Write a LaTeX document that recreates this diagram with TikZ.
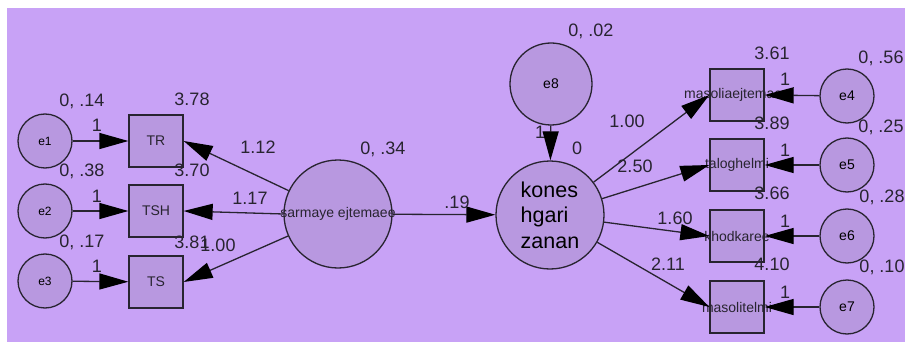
\documentclass[tikz,border=0pt]{standalone}
\usepackage{fontspec}
\setmainfont{Liberation Sans}
\usetikzlibrary{arrows.meta}
\definecolor{bgpurple}{RGB}{200,162,246}
\definecolor{nodepurple}{RGB}{184,152,224}
\definecolor{inkgray}{RGB}{40,36,48}

\begin{document}
\begin{tikzpicture}[x=1pt, y=-1pt,
	every node/.style={inner sep=0pt},
	err/.style={circle, draw=inkgray, line width=1.3pt, fill=nodepurple,
		minimum size=54pt, font=\fontsize{12}{14}\selectfont},
	obs/.style={rectangle, draw=inkgray, line width=1.3pt, fill=nodepurple,
		minimum width=54pt, minimum height=52pt,
		label={[font=\fontsize{14}{16}\selectfont, text=inkgray]center:#1}},
	lat/.style={circle, draw=inkgray, line width=1.3pt, fill=nodepurple,
		minimum size=108pt},
	num/.style={font=\fontsize{18}{20}\selectfont, text=inkgray},
	regr/.style={draw=inkgray, line width=1.3pt,
		-{Triangle[length=29pt, width=16pt, color=black]}}]

% canvas
\fill [white] (0,0) rectangle (905,342);
\useasboundingbox (0,0) rectangle (905,342);
\fill [bgpurple] (7,8) rectangle (905,342);

% left side
\node [err] (e1) at (45,141) {e1};
\node [err] (e2) at (45,211) {e2};
\node [err] (e3) at (45,281) {e3};
\node [obs=TR]  (TR)  at (156,141) {};
\node [obs=TSH] (TSH) at (156,211) {};
\node [obs=TS]  (TS)  at (156,282) {};
\node [lat, label={[font=\fontsize{14}{16}\selectfont, text=inkgray]center:sarmaye ejtemaee}]
	(sar) at (338,214) {};

% right side
\node [err, minimum size=82pt, font=\fontsize{14}{16}\selectfont] (e8) at (551,84) {e8};
\node [lat, align=left, font=\fontsize{21.5}{25.5}\selectfont] (kon) at (550,215)
	{kones\\hgari\\zanan};
\node [obs=masoliaejtemaee] (mas) at (737,95)  {};
\node [obs=taloghelmi]      (tal) at (737,165) {};
\node [obs=khodkaree]       (kho) at (737,236) {};
\node [obs=masolitelmi]     (msl) at (737,307) {};
\node [err, font=\fontsize{14}{16}\selectfont] (e4) at (847,96)  {e4};
\node [err, font=\fontsize{14}{16}\selectfont] (e5) at (847,165) {e5};
\node [err, font=\fontsize{14}{16}\selectfont] (e6) at (847,236) {e6};
\node [err, font=\fontsize{14}{16}\selectfont] (e7) at (847,307) {e7};

% paths
\draw [regr] (e1) -- (TR);
\draw [regr] (e2) -- (TSH);
\draw [regr] (e3) -- (TS);
\draw [regr] (sar) -- (TR.east);
\draw [regr] (sar.west) -- (TSH.east);
\draw [regr] (sar) -- (TS.east);
\draw [regr] (sar) -- (kon);
\draw [regr] (e8) -- (kon);
\draw [regr] (kon) -- (mas.west);
\draw [regr] (kon) -- (tal.west);
\draw [regr] (kon) -- (kho.west);
\draw [regr] (kon) -- (msl.west);
\draw [regr] (e4) -- (mas.east);
\draw [regr] (e5) -- (tal.east);
\draw [regr] (e6) -- (kho.east);
\draw [regr] (e7) -- (msl.east);

% estimates
\node [num] (v1) at (82,101) {0, .14};
\node [num] (v2) at (82,171) {0, .38};
\node [num] (v3) at (82,242) {0, .17};
\node [num] (i1) at (192,99)  {3.78};
\node [num] (i2) at (192,170) {3.70};
\node [num] (i3) at (192,242) {3.81};
\node [num] (w1) at (97,125) {1};
\node [num] (w2) at (97,196) {1};
\node [num] (w3) at (97,266) {1};
\node [num] (l1) at (258,147) {1.12};
\node [num] (l2) at (250,198) {1.17};
\node [num] (l3) at (218,245) {1.00};
\node [num] (vs) at (383,149) {0, .34};
\node [num] (b1) at (457,202) {.19};
\node [num] (v8) at (591,31)  {0, .02};
\node [num] (w8) at (540,132) {1};
\node [num] (ik) at (577,148) {0};
\node [num] (l4) at (627,121) {1.00};
\node [num] (l5) at (635,166) {2.50};
\node [num] (l6) at (675,218) {1.60};
\node [num] (l7) at (668,264) {2.11};
\node [num] (i4) at (772,53)  {3.61};
\node [num] (i5) at (772,123) {3.89};
\node [num] (i6) at (772,193) {3.66};
\node [num] (i7) at (772,264) {4.10};
\node [num] (v4) at (881,58)  {0, .56};
\node [num] (v5) at (881,127) {0, .25};
\node [num] (v6) at (882,197) {0, .28};
\node [num] (v7) at (882,267) {0, .10};
\node [num] (w4) at (785,79)  {1};
\node [num] (w5) at (785,150) {1};
\node [num] (w6) at (785,221) {1};
\node [num] (w7) at (785,292) {1};
\end{tikzpicture}
\end{document}
